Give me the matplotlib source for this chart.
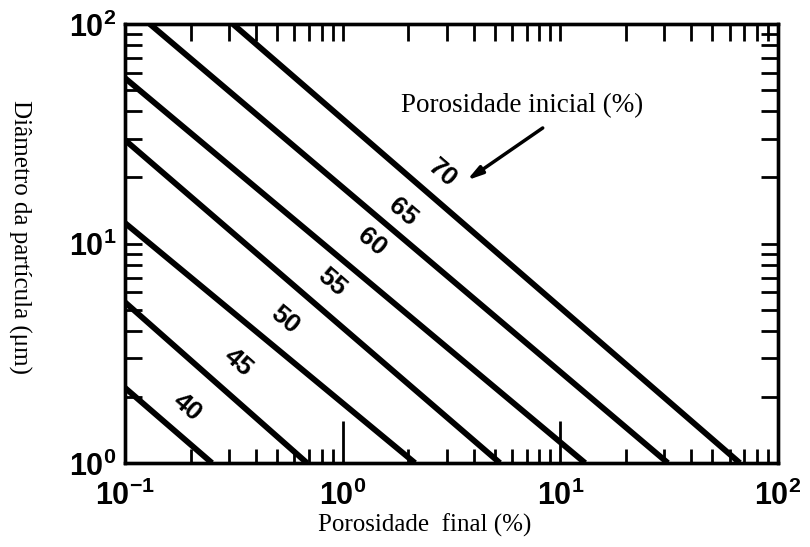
import numpy as np
import matplotlib
matplotlib.use("Agg")
import matplotlib.pyplot as plt

plt.rcParams['mathtext.fontset'] = 'custom'
plt.rcParams['mathtext.rm'] = 'Liberation Sans'
plt.rcParams['mathtext.bf'] = 'Liberation Sans:bold'

# ---- data ----
porosity_labels = ["40", "45", "50", "55", "60", "65", "70"]
x_start = [0.1, 0.1, 0.1, 0.1, 0.1, 0.130, 0.313]
y_start = [2.2, 5.4, 12.4, 29.6, 56.7, 100.0, 100.0]
x_end = [0.251, 0.686, 2.15, 5.28, 13.0, 31.2, 66.8]
y_end = [1.0, 1.0, 1.0, 1.0, 1.0, 1.0, 1.0]
label_x = [0.193, 0.330, 0.543, 0.893, 1.36, 1.89, 2.89]
label_y = [1.80, 2.86, 4.48, 6.68, 10.2, 13.9, 20.9]

x_ticks = [0.1, 1, 10, 100]
x_ticklabels = [r'$\mathbf{10^{-1}}$', r'$\mathbf{10^{0}}$', r'$\mathbf{10^{1}}$', r'$\mathbf{10^{2}}$']
y_ticks = [1, 10, 100]
y_ticklabels = [r'$\mathbf{10^{0}}$', r'$\mathbf{10^{1}}$', r'$\mathbf{10^{2}}$']

annot_text = "Porosidade inicial (%)"
annot_text_xy = (6.67, 42.7)
arrow_tail = (8.3, 33.6)
arrow_head = (3.72, 19.4)

xlabel = "Porosidade  final (%)"
ylabel = "Diâmetro da partícula (μm)"

# ---- figure ----
W, H = 810, 547
fig = plt.figure(figsize=(W / 100, H / 100), dpi=100)
L, R, T, B = 125, 778, 24, 463
ax = fig.add_axes([L / W, 1 - B / H, (R - L) / W, (B - T) / H])
ax.set_xscale('log')
ax.set_yscale('log')
ax.set_xlim(0.1, 100)
ax.set_ylim(1, 100)

for xs, ys, xe, ye in zip(x_start, y_start, x_end, y_end):
    ax.plot([xs, xe], [ys, ye], color='black', lw=4.2, solid_capstyle='butt')

# rotated labels along lines
fig.canvas.draw()
for i, lab in enumerate(porosity_labels):
    p1 = ax.transData.transform((x_start[i], y_start[i]))
    p2 = ax.transData.transform((x_end[i], y_end[i]))
    ang = np.degrees(np.arctan2(p2[1] - p1[1], p2[0] - p1[0]))
    ax.text(label_x[i], label_y[i], lab, rotation=ang, rotation_mode='anchor',
            ha='center', va='center', fontsize=19, fontweight='bold',
            family='Liberation Sans')

ax.annotate('', xy=arrow_head, xytext=arrow_tail,
            arrowprops=dict(arrowstyle='-|>,head_length=0.9,head_width=0.25',
                            lw=2.5, color='black', shrinkA=0, shrinkB=0))
ax.text(*annot_text_xy, annot_text, ha='center', va='center', fontsize=19.5,
        family='Liberation Serif')

for s in ax.spines.values():
    s.set_linewidth(2.4)

ax.set_xticks(x_ticks)
ax.set_xticklabels(x_ticklabels, fontsize=22)
ax.set_yticks(y_ticks)
ax.set_yticklabels(y_ticklabels, fontsize=22)
ax.tick_params(axis='x', which='major', direction='in', length=30, width=2,
               top=False, pad=12)
ax.tick_params(axis='x', which='minor', direction='in', length=10, width=2,
               top=False)
ax.tick_params(axis='y', which='major', direction='in', length=12, width=2,
               right=True, pad=6)
ax.tick_params(axis='y', which='minor', direction='in', length=12, width=2,
               right=True)

axt = ax.twiny()
axt.set_xscale('log')
axt.set_xlim(ax.get_xlim())
axt.set_xticks(x_ticks)
axt.tick_params(axis='x', which='both', direction='in', length=12, width=2,
                labeltop=False, top=True)
for s in axt.spines.values():
    s.set_linewidth(2.4)

fig.text(425 / W, 1 - 525 / H, xlabel, ha='center', va='center', fontsize=18,
         family='Liberation Serif')
fig.text(20 / W, 1 - 237 / H, ylabel, ha='center', va='center', fontsize=18,
         family='Liberation Serif', rotation=-90)

fig.savefig('out.png', dpi=100)
